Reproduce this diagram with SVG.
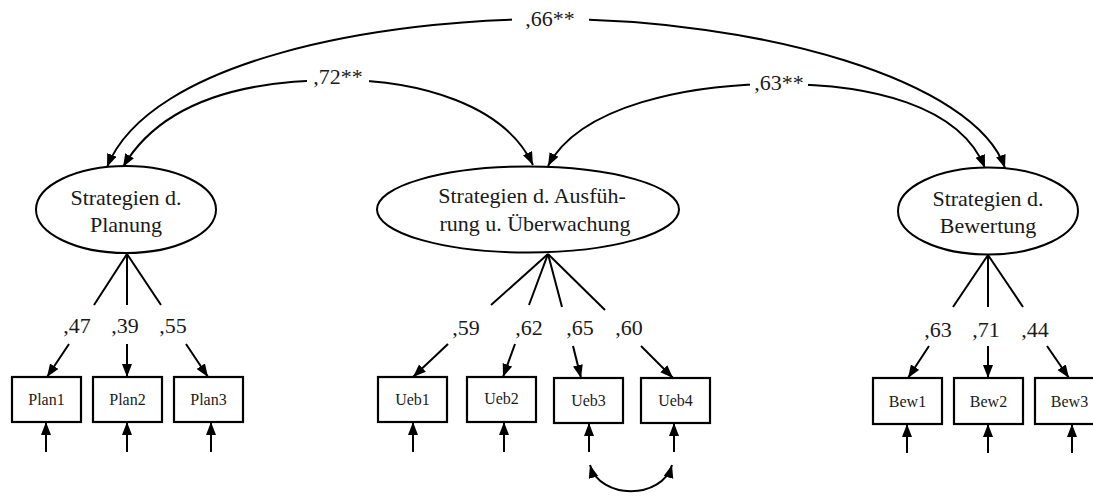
<svg xmlns="http://www.w3.org/2000/svg" width="1093" height="499" viewBox="0 0 1093 499">
  <style>
    .lat { fill: #fff; stroke: #000; stroke-width: 2; }
    .box { fill: #fff; stroke: #000; stroke-width: 2.2; }
    .ln { fill: none; stroke: #000; stroke-width: 2; }
    .arr { fill: none; stroke: #000; stroke-width: 2; marker-end: url(#ah); }
    .bi { fill: none; stroke: #000; stroke-width: 2; marker-start: url(#ah); marker-end: url(#ah); }
    .t { font-family: 'Liberation Serif', 'Times New Roman', Times, 'DejaVu Serif', serif; fill: #1a1a1a; text-anchor: middle; }
    .big { font-size: 22px; }
    .small { font-size: 16px; }
    .gap { fill: #fff; }
  </style>
  <defs>
    <marker id="ah" markerUnits="userSpaceOnUse" markerWidth="14" markerHeight="11" refX="13" refY="5" orient="auto-start-reverse">
      <path d="M0,0 L13,5 L0,10 z" fill="#000"/>
    </marker>
  </defs>

  <!-- connectors -->
  <g id="connectors">
    <!-- latent correlations -->
    <path class="bi" d="M107,167 C150,60 380,19 550,19 C760,19 975,80 1005,168"/>
    <path class="bi" d="M123,167 C165,95 260,80 338,80 C420,80 505,105 533,165"/>
    <path class="bi" d="M548,166 C580,105 690,84 778,84 C870,84 960,105 985,168"/>

    <!-- loadings: Planung -->
    <line class="ln" x1="127" y1="254" x2="94" y2="305"/>
    <line class="arr" x1="69" y1="344" x2="47" y2="377"/>
    <line class="ln" x1="127" y1="254" x2="127" y2="305"/>
    <line class="arr" x1="127" y1="344" x2="127" y2="377"/>
    <line class="ln" x1="127" y1="254" x2="161" y2="305"/>
    <line class="arr" x1="186" y1="344" x2="208" y2="377"/>

    <!-- loadings: Ausfuehrung u. Ueberwachung -->
    <line class="ln" x1="548" y1="254" x2="491" y2="305"/>
    <line class="arr" x1="448" y1="344" x2="413" y2="377"/>
    <line class="ln" x1="548" y1="254" x2="529" y2="305"/>
    <line class="arr" x1="515" y1="344" x2="503" y2="377"/>
    <line class="ln" x1="548" y1="254" x2="562" y2="307"/>
    <line class="arr" x1="573" y1="346" x2="581" y2="378"/>
    <line class="ln" x1="548" y1="254" x2="605" y2="310"/>
    <line class="arr" x1="641" y1="346" x2="673" y2="378"/>

    <!-- loadings: Bewertung -->
    <line class="ln" x1="988" y1="255" x2="953" y2="307"/>
    <line class="arr" x1="929" y1="346" x2="908" y2="378"/>
    <line class="ln" x1="988" y1="255" x2="988" y2="307"/>
    <line class="arr" x1="988" y1="346" x2="988" y2="378"/>
    <line class="ln" x1="988" y1="255" x2="1023" y2="307"/>
    <line class="arr" x1="1047" y1="346" x2="1069" y2="378"/>

    <!-- residual arrows -->
    <line class="arr" x1="46" y1="452" x2="46" y2="422"/>
    <line class="arr" x1="127" y1="452" x2="127" y2="422"/>
    <line class="arr" x1="211" y1="452" x2="211" y2="422"/>
    <line class="arr" x1="413" y1="452" x2="413" y2="422"/>
    <line class="arr" x1="504" y1="452" x2="504" y2="422"/>
    <line class="arr" x1="589" y1="452" x2="589" y2="423"/>
    <line class="arr" x1="674" y1="452" x2="674" y2="423"/>
    <line class="arr" x1="907" y1="453" x2="907" y2="424"/>
    <line class="arr" x1="988" y1="453" x2="988" y2="424"/>
    <line class="arr" x1="1072" y1="453" x2="1072" y2="424"/>

    <!-- residual covariance Ueb3 / Ueb4 -->
    <path class="bi" d="M590,465 C600,500 662,500 672,465"/>
  </g>

  <!-- correlation labels -->
  <g id="corr-labels">
    <rect class="gap" x="512" y="6" width="77" height="24"/>
    <text class="t big" x="550" y="26">,66**</text>
    <rect class="gap" x="307" y="64" width="62" height="24"/>
    <text class="t big" x="338" y="84">,72**</text>
    <rect class="gap" x="750" y="70" width="58" height="24"/>
    <text class="t big" x="779" y="90">,63**</text>
  </g>

  <!-- loading labels -->
  <g id="loading-labels">
    <text class="t big" x="77" y="333">,47</text>
    <text class="t big" x="125" y="333">,39</text>
    <text class="t big" x="173" y="333">,55</text>
    <text class="t big" x="466" y="335">,59</text>
    <text class="t big" x="529" y="335">,62</text>
    <text class="t big" x="580" y="335">,65</text>
    <text class="t big" x="629" y="335">,60</text>
    <text class="t big" x="938" y="337">,63</text>
    <text class="t big" x="986" y="337">,71</text>
    <text class="t big" x="1035" y="337">,44</text>
  </g>

  <!-- latent factors -->
  <g id="f-planung">
    <ellipse class="lat" cx="126" cy="209.5" rx="90" ry="43.5"/>
    <text class="t big" x="126" y="205">Strategien d.</text>
    <text class="t big" x="126" y="232">Planung</text>
  </g>
  <g id="f-ausfuehrung">
    <ellipse class="lat" cx="528" cy="209.5" rx="151" ry="43"/>
    <text class="t big" x="532" y="203">Strategien d. Ausfüh-</text>
    <text class="t big" x="535" y="231">rung u. Überwachung</text>
  </g>
  <g id="f-bewertung">
    <ellipse class="lat" cx="988" cy="211" rx="90" ry="43.5"/>
    <text class="t big" x="988" y="206">Strategien d.</text>
    <text class="t big" x="988" y="233">Bewertung</text>
  </g>

  <!-- indicators -->
  <g id="plan1"><rect class="box" x="12" y="377" width="69" height="45"/><text class="t small" x="46.5" y="405">Plan1</text></g>
  <g id="plan2"><rect class="box" x="93" y="377" width="69" height="45"/><text class="t small" x="127.5" y="405">Plan2</text></g>
  <g id="plan3"><rect class="box" x="174" y="377" width="69" height="45"/><text class="t small" x="208.5" y="405">Plan3</text></g>
  <g id="ueb1"><rect class="box" x="378" y="377" width="69" height="45"/><text class="t small" x="412.5" y="405">Ueb1</text></g>
  <g id="ueb2"><rect class="box" x="467" y="377" width="69" height="45"/><text class="t small" x="501.5" y="404">Ueb2</text></g>
  <g id="ueb3"><rect class="box" x="554" y="378" width="69" height="45"/><text class="t small" x="588.5" y="406">Ueb3</text></g>
  <g id="ueb4"><rect class="box" x="641" y="378" width="69" height="45"/><text class="t small" x="675.5" y="406">Ueb4</text></g>
  <g id="bew1"><rect class="box" x="873" y="378" width="69" height="46"/><text class="t small" x="907.5" y="407">Bew1</text></g>
  <g id="bew2"><rect class="box" x="954" y="378" width="69" height="46"/><text class="t small" x="988.5" y="407">Bew2</text></g>
  <g id="bew3"><rect class="box" x="1035" y="378" width="69" height="46"/><text class="t small" x="1069.5" y="407">Bew3</text></g>
</svg>
